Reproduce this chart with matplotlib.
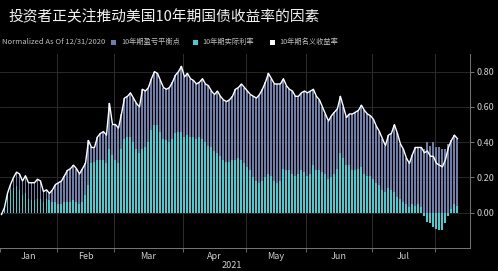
import matplotlib
matplotlib.use("Agg")
import matplotlib.pyplot as plt
from matplotlib.patches import Rectangle
import numpy as np

plt.rcParams['font.family'] = ['Noto Sans CJK SC', 'DejaVu Sans']

title = "投资者正关注推动美国10年期国债收益率的因素"
note = "Normalized As Of 12/31/2020"
legend_labels = ["10年期盈亏平衡点", "10年期实际利率", "10年期名义收益率"]
month_labels = ["Jan", "Feb", "Mar", "Apr", "May", "Jun", "Jul"]
month_days = [19, 19, 23, 21, 20, 22, 21]   # trading days per month
year_label = "2021"
yticks = [0.0, 0.2, 0.4, 0.6, 0.8]

# 10Y nominal yield change vs 12/31/2020 (white line), one value per trading day
nominal = [
    -0.01, 0.03, 0.11, 0.16, 0.20, 0.23, 0.22, 0.18, 0.21, 0.17,
    0.17, 0.17, 0.19, 0.18, 0.12, 0.13, 0.11, 0.13, 0.16, 0.17,
    0.18, 0.21, 0.24, 0.25, 0.27, 0.25, 0.22, 0.25, 0.28, 0.41,
    0.37, 0.37, 0.43, 0.45, 0.46, 0.44, 0.62, 0.50, 0.50, 0.48,
    0.56, 0.65, 0.66, 0.68, 0.65, 0.62, 0.60, 0.70, 0.69, 0.71,
    0.76, 0.80, 0.79, 0.75, 0.71, 0.70, 0.71, 0.74, 0.78, 0.80,
    0.83, 0.77, 0.79, 0.76, 0.75, 0.73, 0.74, 0.76, 0.73, 0.72,
    0.69, 0.67, 0.69, 0.66, 0.64, 0.63, 0.64, 0.66, 0.70, 0.71,
    0.73, 0.71, 0.69, 0.67, 0.66, 0.65, 0.67, 0.70, 0.74, 0.79,
    0.76, 0.73, 0.73, 0.73, 0.76, 0.72, 0.70, 0.69, 0.66, 0.66,
    0.68, 0.69, 0.68, 0.69, 0.70, 0.66, 0.64, 0.60, 0.56, 0.52,
    0.55, 0.57, 0.59, 0.66, 0.60, 0.54, 0.56, 0.56, 0.57, 0.58,
    0.61, 0.58, 0.56, 0.55, 0.53, 0.49, 0.46, 0.42, 0.38, 0.44,
    0.45, 0.50, 0.45, 0.39, 0.36, 0.31, 0.28, 0.33, 0.37, 0.37,
    0.37, 0.34, 0.35, 0.32, 0.32, 0.28, 0.27, 0.26, 0.30, 0.37,
    0.41, 0.44, 0.42,
]

# 10Y real yield change (cyan bars)
real = [
    0.00, 0.03, 0.10, 0.13, 0.14, 0.15, 0.13, 0.10, 0.11, 0.08,
    0.07, 0.07, 0.08, 0.08, 0.06, 0.08, 0.07, 0.06, 0.06, 0.05,
    0.05, 0.06, 0.06, 0.06, 0.07, 0.06, 0.05, 0.06, 0.10, 0.16,
    0.28, 0.29, 0.30, 0.30, 0.30, 0.28, 0.36, 0.33, 0.30, 0.28,
    0.36, 0.42, 0.43, 0.43, 0.40, 0.36, 0.34, 0.36, 0.37, 0.40,
    0.47, 0.50, 0.50, 0.46, 0.42, 0.41, 0.40, 0.42, 0.45, 0.46,
    0.46, 0.43, 0.44, 0.43, 0.43, 0.42, 0.43, 0.42, 0.40, 0.38,
    0.37, 0.35, 0.34, 0.32, 0.30, 0.29, 0.29, 0.30, 0.30, 0.31,
    0.30, 0.28, 0.26, 0.24, 0.20, 0.18, 0.17, 0.18, 0.20, 0.22,
    0.21, 0.18, 0.17, 0.18, 0.25, 0.24, 0.24, 0.22, 0.21, 0.22,
    0.24, 0.23, 0.21, 0.22, 0.27, 0.24, 0.24, 0.23, 0.22, 0.19,
    0.20, 0.22, 0.25, 0.34, 0.31, 0.27, 0.27, 0.24, 0.24, 0.25,
    0.26, 0.22, 0.21, 0.21, 0.19, 0.17, 0.16, 0.13, 0.12, 0.14,
    0.13, 0.12, 0.09, 0.08, 0.06, 0.05, 0.03, 0.05, 0.04, 0.05,
    0.03, -0.02, -0.05, -0.06, -0.08, -0.09, -0.10, -0.10, -0.06, -0.02,
    0.02, 0.05, 0.04,
]

nominal = np.array(nominal)
real = np.array(real)
breakeven = nominal - real
x = np.arange(len(nominal))

BG = "#000000"
SLATE = "#6d7fa8"
CYAN = "#45cdd4"
TXT = "#d0d0d0"
GRID = "#2e2e2e"

W, H = 498, 271
fig = plt.figure(figsize=(W / 100, H / 100), dpi=100, facecolor=BG)
ax = fig.add_axes([0.0, 1 - 248 / H, 470 / W, (248 - 54) / H])
ax.set_facecolor(BG)

# stacked bars: cyan real from 0; breakeven stacked on positive real, from 0 otherwise
be_bottom = np.where(real > 0, real, 0.0)
bw = 0.66
ax.bar(x, real, width=bw, color=CYAN, linewidth=0, zorder=2)
ax.bar(x, breakeven, bottom=be_bottom, width=bw, color=SLATE, linewidth=0, zorder=2)
ax.plot(x, nominal, color="white", lw=1.0, zorder=4)

# month boundaries
bounds = np.concatenate([[-0.5], np.cumsum(month_days) - 0.5])
centers = (bounds[:-1] + bounds[1:]) / 2
for b in bounds[1:]:
    ax.axvline(b, color=GRID, lw=0.7, zorder=1)
for t in yticks:
    ax.axhline(t, color=GRID, lw=0.6, zorder=1)

ax.set_xlim(-0.5, 156.2)
ax.set_ylim(-0.2, 0.9)

ax.set_xticks(bounds)
ax.set_xticklabels([])
ax.set_xticks(centers, minor=True)
ax.set_xticklabels(month_labels, minor=True)
ax.tick_params(axis="x", which="major", length=3, color="#777777", width=0.6)
ax.tick_params(axis="x", which="minor", length=0, pad=3, labelsize=6.5, labelcolor=TXT)

ax.yaxis.tick_right()
ax.set_yticks(yticks)
ax.set_yticklabels([f"{t:.2f}" for t in yticks])
ax.tick_params(axis="y", length=3, color="#888888", width=0.6, pad=2,
               labelsize=6.5, labelcolor=TXT)

for s in ["left", "top"]:
    ax.spines[s].set_visible(False)
for s in ["right", "bottom"]:
    ax.spines[s].set_color("#777777")
    ax.spines[s].set_linewidth(0.7)

fig.text(232 / W, 1 - 265 / H, year_label, color=TXT, fontsize=6.5,
         ha="center", va="center")

# title
fig.text(8 / W, 1 - 17 / H, title, color="#f2f2f2", fontsize=10.6,
         ha="left", va="center")

# legend row
ly = 1 - 42 / H
fig.text(2 / W, ly, note, color="#bdbdbd", fontsize=5.5, ha="left", va="center")
sq_x = [111, 193, 270]
lab_x = [121, 202, 279]
colors = [SLATE, CYAN, "white"]
for sx, lx, c, lab in zip(sq_x, lab_x, colors, legend_labels):
    fig.patches.append(Rectangle((sx / W, ly - 2.5 / H), 5 / W, 5 / H,
                                 transform=fig.transFigure, facecolor=c,
                                 edgecolor="none"))
    fig.text(lx / W, ly, lab, color="#bdbdbd", fontsize=5.2, ha="left", va="center")

fig.savefig("out.png", dpi=100, facecolor=BG)
